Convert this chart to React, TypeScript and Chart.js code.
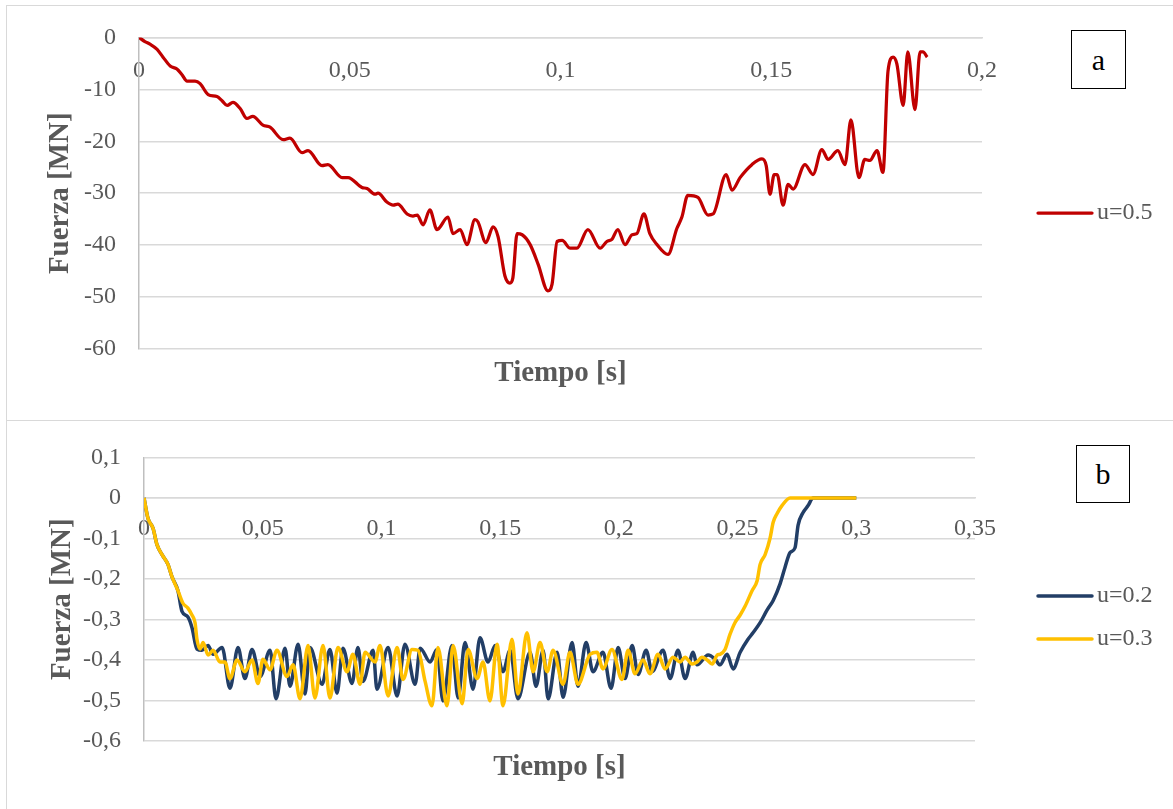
import React, { useEffect, useRef } from 'react';
import { Chart, registerables } from 'chart.js';

Chart.register(...registerables);

const FONT = "'Liberation Serif', 'Times New Roman', serif";
const GRAY = '#595959';
const GRID = '#d9d9d9';
const AXIS = '#bfbfbf';

// ---------- Chart a (u=0.5) ----------
const timeA = [
  0, 0.0014, 0.0026, 0.0043, 0.0057, 0.0074, 0.0090, 0.0102, 0.0114, 0.0133,
  0.0145, 0.0164, 0.0185, 0.0197, 0.0209, 0.0223, 0.0240, 0.0256, 0.0270, 0.0294,
  0.0311, 0.0342, 0.0358, 0.0387, 0.0401, 0.0434, 0.0448, 0.0482, 0.0496, 0.0529,
  0.0541, 0.0560, 0.0567, 0.0588, 0.0603, 0.0614, 0.0636, 0.0650, 0.0660, 0.0674,
  0.0690, 0.0707, 0.0733, 0.0745, 0.0762, 0.0778, 0.0797, 0.0804, 0.0823, 0.0840,
  0.0852, 0.0868, 0.0880, 0.0887, 0.0897, 0.0909, 0.0928, 0.0947, 0.0970, 0.0980,
  0.0992, 0.1004, 0.1023, 0.1039, 0.1065, 0.1094, 0.1110, 0.1122, 0.1136, 0.1153,
  0.1170, 0.1181, 0.1198, 0.1212, 0.1229, 0.1255, 0.1276, 0.1288, 0.1302, 0.1326,
  0.1350, 0.1362, 0.1393, 0.1407, 0.1426, 0.1454, 0.1478, 0.1488, 0.1497, 0.1507,
  0.1514, 0.1528, 0.1540, 0.1552, 0.1580, 0.1599, 0.1620, 0.1635, 0.1658, 0.1675,
  0.1689, 0.1708, 0.1722, 0.1734, 0.1751, 0.1765, 0.1777, 0.1789, 0.1798, 0.1813,
  0.1824, 0.1841, 0.1853, 0.1860, 0.1870,
];
const forceA = [
  0, -0.8, -1.3, -2.3, -3.8, -5.5, -6.1, -7.2, -8.4, -8.4,
  -8.9, -11.0, -11.4, -12.2, -13.1, -12.5, -13.7, -15.6, -15.2, -16.9,
  -17.3, -19.7, -19.4, -22.2, -21.8, -24.7, -24.5, -27.0, -27.0, -28.9,
  -29.1, -30.2, -30.0, -31.7, -32.3, -32.1, -34.0, -34.4, -34.2, -36.1,
  -33.2, -37.0, -34.6, -37.8, -37.0, -39.9, -35.1, -35.5, -39.5, -36.5,
  -38.4, -45.9, -47.3, -46.3, -37.8, -38.0, -39.9, -43.7, -48.8, -47.5,
  -39.3, -39.1, -40.6, -40.6, -37.0, -40.6, -39.3, -38.9, -37.0, -39.9,
  -38.0, -37.8, -34.0, -37.8, -39.9, -41.8, -36.8, -34.6, -30.4, -30.8,
  -34.2, -34.0, -26.4, -29.4, -27.0, -24.5, -23.4, -24.7, -30.2, -26.4,
  -26.4, -32.3, -28.3, -29.2, -24.5, -26.4, -21.6, -23.5, -21.8, -24.5,
  -15.9, -27.0, -23.5, -23.7, -21.8, -26.0, -6.5, -3.8, -5.1, -13.1,
  -2.8, -13.9, -2.8, -2.8, -3.8,
];
const xLabelsA = ['0', '0,05', '0,1', '0,15', '0,2'];
const yLabelsA = ['-60', '-50', '-40', '-30', '-20', '-10', '0'];

// ---------- Chart b (u=0.2, u=0.3) ----------
const timeB2 = [
  0, 0.0017, 0.0038, 0.0055, 0.0076, 0.0101, 0.0118, 0.0143, 0.0160, 0.0185,
  0.0202, 0.0223, 0.0244, 0.0270, 0.0291, 0.0329, 0.0362, 0.0396, 0.0425, 0.0455,
  0.0489, 0.0531, 0.0556, 0.0594, 0.0615, 0.0649, 0.0678, 0.0699, 0.0750, 0.0783,
  0.0813, 0.0838, 0.0876, 0.0901, 0.0922, 0.0965, 0.0981, 0.1028, 0.1066, 0.1099,
  0.1142, 0.1163, 0.1205, 0.1234, 0.1259, 0.1297, 0.1323, 0.1352, 0.1386, 0.1415,
  0.1449, 0.1479, 0.1512, 0.1542, 0.1575, 0.1626, 0.1651, 0.1681, 0.1702, 0.1740,
  0.1765, 0.1803, 0.1828, 0.1862, 0.1891, 0.1933, 0.1967, 0.1997, 0.2026, 0.2056,
  0.2081, 0.2115, 0.2140, 0.2186, 0.2216, 0.2249, 0.2279, 0.2313, 0.2329, 0.2376,
  0.2405, 0.2426, 0.2456, 0.2481, 0.2511, 0.2544, 0.2565, 0.2595, 0.2624, 0.2650,
  0.2679, 0.2700, 0.2721, 0.2742, 0.2755, 0.2776, 0.2797, 0.2818, 0.3000,
];
const forceB2 = [
  0, -0.051, -0.075, -0.116, -0.140, -0.164, -0.195, -0.229, -0.280, -0.294,
  -0.320, -0.373, -0.376, -0.364, -0.386, -0.369, -0.470, -0.369, -0.446, -0.374,
  -0.441, -0.376, -0.496, -0.371, -0.465, -0.361, -0.484, -0.369, -0.460, -0.374,
  -0.482, -0.371, -0.458, -0.369, -0.453, -0.376, -0.472, -0.369, -0.489, -0.361,
  -0.460, -0.371, -0.405, -0.374, -0.501, -0.364, -0.494, -0.357, -0.472, -0.345,
  -0.405, -0.364, -0.429, -0.376, -0.496, -0.381, -0.465, -0.376, -0.496, -0.381,
  -0.492, -0.357, -0.465, -0.357, -0.429, -0.381, -0.470, -0.369, -0.446, -0.364,
  -0.436, -0.376, -0.429, -0.376, -0.446, -0.376, -0.446, -0.381, -0.412, -0.388,
  -0.398, -0.412, -0.386, -0.422, -0.381, -0.349, -0.333, -0.308, -0.277, -0.253,
  -0.212, -0.171, -0.135, -0.123, -0.067, -0.036, -0.019, 0, 0,
];
const timeB3 = [
  0, 0.0017, 0.0038, 0.0055, 0.0076, 0.0101, 0.0118, 0.0143, 0.0164, 0.0185,
  0.0202, 0.0215, 0.0223, 0.0236, 0.0249, 0.0270, 0.0291, 0.0320, 0.0341, 0.0362,
  0.0392, 0.0425, 0.0455, 0.0480, 0.0501, 0.0531, 0.0560, 0.0602, 0.0628, 0.0657,
  0.0691, 0.0720, 0.0754, 0.0783, 0.0817, 0.0855, 0.0880, 0.0910, 0.0931, 0.0973,
  0.0994, 0.1028, 0.1066, 0.1091, 0.1129, 0.1154, 0.1184, 0.1213, 0.1238, 0.1276,
  0.1302, 0.1340, 0.1365, 0.1403, 0.1428, 0.1457, 0.1487, 0.1512, 0.1550, 0.1575,
  0.1613, 0.1639, 0.1668, 0.1698, 0.1723, 0.1765, 0.1794, 0.1828, 0.1879, 0.1908,
  0.1933, 0.1971, 0.2013, 0.2039, 0.2068, 0.2102, 0.2131, 0.2165, 0.2195, 0.2228,
  0.2258, 0.2279, 0.2308, 0.2329, 0.2350, 0.2372, 0.2393, 0.2414, 0.2426, 0.2447,
  0.2468, 0.2489, 0.2511, 0.2532, 0.2561, 0.2582, 0.2595, 0.2616, 0.2637, 0.2650,
  0.2666, 0.2687, 0.2721, 0.3000,
];
const forceB3 = [
  0, -0.051, -0.075, -0.116, -0.140, -0.164, -0.195, -0.229, -0.260, -0.272,
  -0.289, -0.308, -0.349, -0.373, -0.357, -0.388, -0.376, -0.405, -0.405, -0.446,
  -0.400, -0.429, -0.400, -0.458, -0.398, -0.424, -0.376, -0.441, -0.412, -0.496,
  -0.364, -0.494, -0.364, -0.494, -0.369, -0.429, -0.386, -0.460, -0.381, -0.405,
  -0.364, -0.489, -0.369, -0.448, -0.374, -0.376, -0.453, -0.513, -0.369, -0.513,
  -0.364, -0.508, -0.374, -0.446, -0.405, -0.501, -0.361, -0.513, -0.349, -0.484,
  -0.333, -0.429, -0.357, -0.429, -0.376, -0.460, -0.381, -0.460, -0.386, -0.381,
  -0.422, -0.374, -0.448, -0.376, -0.434, -0.400, -0.434, -0.386, -0.422, -0.393,
  -0.405, -0.393, -0.410, -0.405, -0.393, -0.400, -0.410, -0.388, -0.386, -0.374,
  -0.337, -0.308, -0.289, -0.267, -0.229, -0.205, -0.164, -0.140, -0.099, -0.060,
  -0.039, -0.019, 0, 0,
];
const xLabelsB = ['0', '0,05', '0,1', '0,15', '0,2', '0,25', '0,3', '0,35'];
const yLabelsB = ['-0,6', '-0,5', '-0,4', '-0,3', '-0,2', '-0,1', '0', '0,1'];

const sideLegend = {
  id: 'sideLegend',
  afterDraw(chart: any, _args: any, opts: any) {
    const ctx = chart.ctx;
    ctx.save();
    chart.data.datasets.forEach((ds: any, i: number) => {
      const y = opts.ys[i];
      ctx.strokeStyle = ds.borderColor;
      ctx.lineWidth = ds.borderWidth;
      ctx.lineCap = 'round';
      ctx.beginPath();
      ctx.moveTo(opts.x, y);
      ctx.lineTo(opts.x + opts.len, y);
      ctx.stroke();
      ctx.fillStyle = GRAY;
      ctx.font = `${opts.size}px ${FONT}`;
      ctx.textBaseline = 'middle';
      ctx.textAlign = 'left';
      ctx.fillText(ds.label, opts.x + opts.len + 5, y);
    });
    ctx.restore();
  },
};

type Series = { label: string; t: number[]; f: number[]; color: string; order: number };
type Spec = {
  series: Series[];
  lineWidth: number;
  xMax: number;
  yMin: number;
  yMax: number;
  yStep: number;
  xLabels: string[];
  yLabels: string[];
  pad: { left: number; top: number; right: number; bottom: number };
  yWidth: number;
  xTickPad: number;
  titleTop: number;
  legendYs: number[];
};

function makeConfig(s: Spec): any {
  return {
    type: 'line',
    data: {
      datasets: s.series.map((se) => ({
        label: se.label,
        data: se.t.map((t, i) => ({ x: t, y: se.f[i] })),
        borderColor: se.color,
        backgroundColor: se.color,
        borderWidth: s.lineWidth,
        pointRadius: 0,
        cubicInterpolationMode: 'monotone',
        fill: false,
        order: se.order,
      })),
    },
    options: {
      animation: false,
      responsive: false,
      devicePixelRatio: 1,
      layout: { padding: s.pad },
      plugins: {
        legend: { display: false },
        tooltip: { enabled: false },
        title: {
          display: true,
          text: 'Tiempo [s]',
          position: 'bottom',
          fullSize: false,
          color: GRAY,
          font: { family: FONT, size: 29, weight: 'bold', lineHeight: 1.2 },
          padding: { top: s.titleTop, bottom: 0 },
        },
        sideLegend: { x: 1038, len: 54, ys: s.legendYs, size: 24 },
      },
      scales: {
        x: {
          type: 'linear',
          position: { y: 0 },
          min: 0,
          max: s.xMax,
          grid: { display: false, drawTicks: false },
          border: { display: true, color: GRID, width: 1.5 },
          ticks: {
            stepSize: 0.05,
            autoSkip: false,
            maxRotation: 0,
            padding: s.xTickPad,
            color: GRAY,
            font: { family: FONT, size: 24 },
            callback: (_v: any, i: number) => s.xLabels[i],
          },
        },
        y: {
          type: 'linear',
          position: 'left',
          min: s.yMin,
          max: s.yMax,
          grid: { color: GRID, lineWidth: 1.5, drawTicks: false },
          border: { display: true, color: AXIS, width: 1.5 },
          ticks: {
            stepSize: s.yStep,
            padding: 23,
            color: GRAY,
            font: { family: FONT, size: 24 },
            callback: (_v: any, i: number) => s.yLabels[i],
          },
          title: {
            display: true,
            text: 'Fuerza [MN]',
            color: GRAY,
            font: { family: FONT, size: 29, weight: 'bold', lineHeight: 1.2 },
            padding: 0,
          },
          afterFit: (scale: any) => {
            scale.width = s.yWidth;
          },
        },
      },
    },
    plugins: [sideLegend],
  };
}

const specA: Spec = {
  series: [{ label: 'u=0.5', t: timeA, f: forceA, color: '#C00000', order: 0 }],
  lineWidth: 3.25,
  xMax: 0.2,
  yMin: -60,
  yMax: 0,
  yStep: 10,
  xLabels: xLabelsA,
  yLabels: yLabelsA,
  pad: { left: 43, top: 33, right: 191, bottom: 29.2 },
  yWidth: 96,
  xTickPad: 18.5,
  titleTop: 7,
  legendYs: [213],
};

const specB: Spec = {
  series: [
    { label: 'u=0.2', t: timeB2, f: forceB2, color: '#223E66', order: 1 },
    { label: 'u=0.3', t: timeB3, f: forceB3, color: '#FFC000', order: 0 },
  ],
  lineWidth: 3.5,
  xMax: 0.35,
  yMin: -0.6,
  yMax: 0.1,
  yStep: 0.1,
  xLabels: xLabelsB,
  yLabels: yLabelsB,
  pad: { left: 45, top: 31, right: 198, bottom: 23.6 },
  yWidth: 99,
  xTickPad: 16.5,
  titleTop: 9.6,
  legendYs: [176, 219],
};

function ChartCanvas({ spec, top, height }: { spec: Spec; top: number; height: number }) {
  const ref = useRef<HTMLCanvasElement>(null);
  useEffect(() => {
    const chart = new Chart(ref.current as HTMLCanvasElement, makeConfig(spec));
    return () => chart.destroy();
  }, []);
  return (
    <canvas
      ref={ref}
      width={1173}
      height={height}
      style={{ position: 'absolute', left: 0, top, width: 1173, height }}
    />
  );
}

const frame = (top: number, height: number): React.CSSProperties => ({
  position: 'absolute',
  left: 6,
  top,
  width: 1200,
  height,
  border: '1.5px solid #d9d9d9',
  boxSizing: 'border-box',
});

const tag = (left: number, top: number, w: number, h: number): React.CSSProperties => ({
  position: 'absolute',
  left,
  top,
  width: w,
  height: h,
  border: '1.5px solid #000',
  boxSizing: 'border-box',
  display: 'flex',
  alignItems: 'center',
  justifyContent: 'center',
  fontFamily: FONT,
  fontSize: 30,
  color: '#000',
  background: '#fff',
});

export default function App() {
  return (
    <div
      style={{
        position: 'absolute',
        left: 0,
        top: 0,
        width: 1173,
        height: 809,
        overflow: 'hidden',
        background: '#fff',
      }}
    >
      <div style={frame(5, 416)} />
      <div style={frame(420, 420)} />
      <ChartCanvas spec={specA} top={0} height={420} />
      <ChartCanvas spec={specB} top={420} height={389} />
      <div style={tag(1071, 30, 55, 59)}>a</div>
      <div style={tag(1076, 445, 54, 58)}>b</div>
    </div>
  );
}
